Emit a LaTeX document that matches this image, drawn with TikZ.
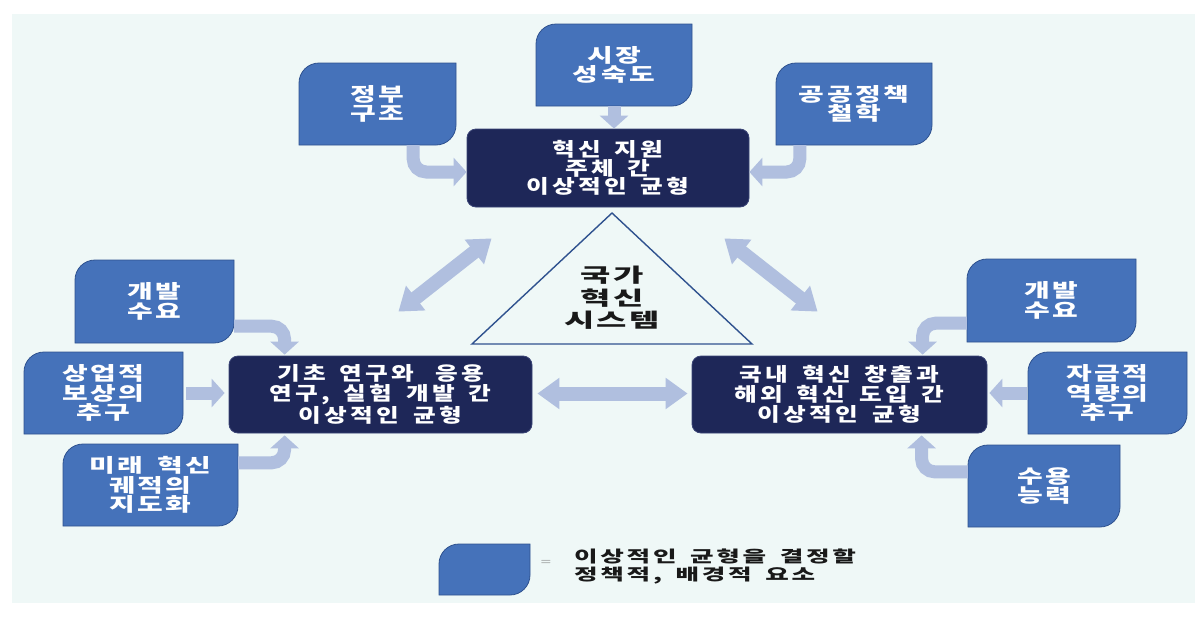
\documentclass[tikz,border=0pt]{standalone}
\usepackage{fontspec}
\newfontfamily\krb{Noto Sans CJK KR}[FakeStretch=1.47,LetterSpace=13.5]
\newfontfamily\krd{Noto Sans CJK KR}[FakeStretch=1.3,LetterSpace=17]
\newfontfamily\krt{Noto Sans CJK KR}[FakeStretch=1.69,LetterSpace=11]
\newfontfamily\krl{Noto Sans CJK KR}[FakeStretch=1.6,LetterSpace=17]
\newcommand\gap{\hspace{5pt}}
\usetikzlibrary{arrows.meta,calc}
\definecolor{bgc}{RGB}{239,248,247}
\definecolor{boxblue}{RGB}{69,114,186}
\definecolor{boxedge}{RGB}{47,82,143}
\definecolor{navy}{RGB}{30,39,88}
\definecolor{navyedge}{RGB}{58,68,118}
\definecolor{arrowc}{RGB}{176,191,223}
\definecolor{triline}{RGB}{47,82,143}
\definecolor{dtext}{RGB}{25,25,25}
\tikzset{
  bluetext/.style={text=white, align=center, inner sep=0pt,
    font=\krb\bfseries\fontsize{19}{19.5}\selectfont},
  blueshape/.style={fill=boxblue, draw=boxedge, line width=0.8pt},
  navybox/.style={fill=navy, draw=navyedge, line width=0.8pt, rounded corners=9pt,
    text=white, align=center, inner sep=0pt,
    font=\krd\bfseries\fontsize{19}{20}\selectfont},
  flow/.style={draw=arrowc, line width=13pt, rounded corners=13pt,
    -{Triangle[width=28pt,length=13pt]}},
  dbl/.style={draw=arrowc, line width=14pt,
    {Triangle[width=30pt,length=22pt]}-{Triangle[width=30pt,length=22pt]}},
  tritext/.style={text=dtext, align=center, inner sep=0pt,
    font=\krt\bfseries\fontsize{19.5}{22.5}\selectfont},
  legtext/.style={text=dtext, align=left, inner sep=0pt,
    font=\krl\bfseries\fontsize{16}{18}\selectfont},
  eqsign/.style={text=black!55, inner sep=0pt, font=\fontsize{14}{14}\selectfont},
}
\newcommand\bluebox[6]{%
  \path[blueshape] (#2,#5) -- (#2,#3+20) arc[start angle=180, end angle=270, radius=20]
    -- (#4,#3) -- (#4,#5-20) arc[start angle=0, end angle=90, radius=20] -- cycle;
  \node[bluetext, minimum width={(#4-#2)*1pt}, minimum height={(#5-#3)*1pt}]
    (#1) at ({(#2+#4)/2},{(#3+#5)/2}) {#6};
}
\begin{document}
\begin{tikzpicture}[x=1pt,y=-1pt]
\useasboundingbox (0,0) rectangle (1203,619);
\fill[white] (0,0) rectangle (1203,619);
\fill[bgc] (12,14) rectangle (1195,603);

% dark boxes
\node[navybox, minimum width=282pt, minimum height=78pt,
  font=\krd\bfseries\fontsize{19}{18.5}\selectfont] (top) at (608,168)
  {혁신 \gap 지원\\주체 \gap 간\\이상적인 \gap 균형};
\node[navybox, minimum width=303pt, minimum height=77pt] (left) at (380.5,394.5)
  {기초 \gap 연구와 \hspace{12pt}응용\\연구, \gap 실험 \gap 개발 \gap 간\\이상적인 \gap 균형};
\node[navybox, minimum width=295pt, minimum height=77pt] (right) at (839.5,394.5)
  {국내 \gap 혁신 \gap 창출과\\해외 \gap 혁신 \gap 도입 \gap 간\\이상적인 \gap 균형};

% blue factor boxes
\bluebox{gov}{299}{63}{456}{145}{정부\\구조}
\bluebox{mkt}{536}{24}{692}{106}{시장\\성숙도}
\bluebox{pub}{776}{63}{932}{145}{공공정책\\철학}
\bluebox{ldev}{75}{260}{234}{343}{개발\\수요}
\bluebox{com}{24}{352}{183}{434}{상업적\\보상의\\추구}
\bluebox{fut}{63}{444}{238}{526}{미래 \gap 혁신\\궤적의\\지도화}
\bluebox{rdev}{967}{259}{1136}{342}{개발\\수요}
\bluebox{fund}{1028}{352}{1187}{434}{자금적\\역량의\\추구}
\bluebox{acc}{968}{445}{1120}{527}{수용\\능력}
\bluebox{leg}{439}{544}{530}{595}{}

% triangle
\draw[triline, line width=1.4pt] (612,213) -- (752,344) -- (472,344) -- cycle;
\node[tritext] (nis) at (612,298) {국가\\혁신\\시스템};

% flows into top box
\draw[flow] ($(gov.south east)+(-43,0)$) |- ($(top.west)+(0,4)$);
\draw[flow] (mkt.south) -- (mkt.south |- top.north);
\draw[flow] ($(pub.south west)+(24,0)$) |- ($(top.east)+(0,4)$);

% flows into left box
\draw[flow] ($(ldev.south east)+(0,-17)$) -| ($(left.north west)+(56,-1)$);
\draw[flow] ($(com.east)+(3,0)$) -- ($(com.east -| left.west)+(-4,0)$);
\draw[flow] ($(fut.north east)+(0,19)$) -| ($(left.south west)+(56,2)$);

% flows into right box
\draw[flow] ($(rdev.south west)+(0,-19)$) -| ($(right.north west)+(231,-1)$);
\draw[flow] ($(fund.west)+(-1,0)$) -- ($(fund.west -| right.east)+(2,0)$);
\draw[flow] ($(acc.north west)+(0,27)$) -| ($(right.south west)+(230,2)$);

% double arrows
\draw[dbl] ($(top.south west)+(25,31)$) -- ($(left.north east)+(-134,-44)$);
\draw[dbl] ($(top.south east)+(-25,31)$) -- ($(right.north west)+(126,-44)$);
\draw[dbl] ($(left.east)+(5,-1)$) -- ($(right.west)+(-4,-1)$);

% legend
\node[eqsign] (eq) at (546,563) {=};
\node[legtext, anchor=west] (legt) at (574,566)
  {이상적인 \gap 균형을 \gap 결정할\\정책적, \gap 배경적 \gap 요소};
\end{tikzpicture}
\end{document}
